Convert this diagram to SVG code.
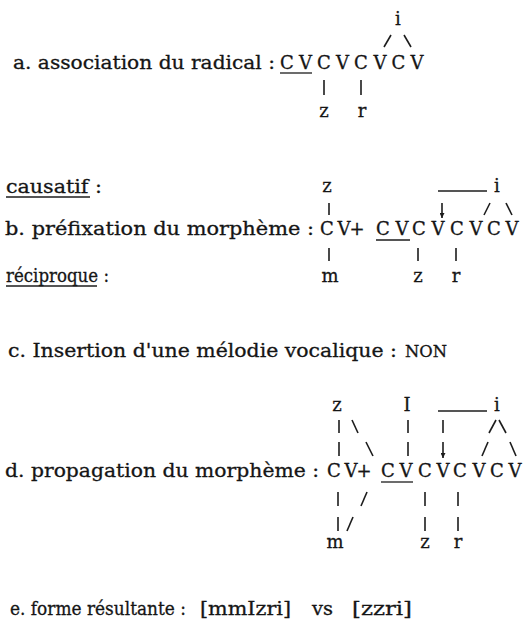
<svg xmlns="http://www.w3.org/2000/svg" width="529" height="632" viewBox="0 0 529 632">
<defs>
<style>
text{font-family:"DejaVu Serif","Liberation Serif",serif;font-size:18px;fill:#151515;stroke:#151515;stroke-width:0.3}
.c{text-anchor:middle}
.lb{font-size:18.5px}
.ln{stroke:#1c1c1c;stroke-width:1.6;fill:none;stroke-linecap:butt}
.ul{stroke:#1c1c1c;stroke-width:1.3;fill:none}
.non{font-size:16px}
</style>
<marker id="ah" viewBox="0 0 8 8" refX="8" refY="4" markerWidth="5" markerHeight="5" orient="auto" markerUnits="userSpaceOnUse">
<path d="M0,0 L8,4 L0,8 Z" fill="#1c1c1c"/>
</marker>
</defs>
<rect width="529" height="632" fill="#ffffff"/>

<g id="a">
<text class="lb" x="13" y="69" textLength="262" lengthAdjust="spacingAndGlyphs">a. association du radical :</text>
<g id="a-skeleton">
<text class="c" x="287" y="69">C</text><text class="c" x="305.5" y="69">V</text>
<text class="c" x="324" y="69">C</text><text class="c" x="342.5" y="69">V</text>
<text class="c" x="361" y="69">C</text><text class="c" x="380" y="69">V</text>
<text class="c" x="398.5" y="69">C</text><text class="c" x="417" y="69">V</text>
</g>
<text class="c" x="398" y="25">i</text>
<text class="c" x="324" y="117">z</text>
<text class="c" x="362" y="117">r</text>
</g>

<g id="b">
<text class="lb" x="6" y="193" textLength="96" lengthAdjust="spacingAndGlyphs">causatif :</text>
<text class="lb" x="5" y="235" textLength="309" lengthAdjust="spacingAndGlyphs">b. préfixation du morphème :</text>
<text class="lb" x="6" y="282" textLength="103" lengthAdjust="spacingAndGlyphs">réciproque :</text>
<text class="c" x="327" y="192">z</text>
<text class="c" x="497" y="192">i</text>
<g id="b-skeleton">
<text class="c" x="327" y="235">C</text><text class="c" x="344" y="235">V</text><text class="c" x="357" y="235">+</text>
<text class="c" x="383" y="235">C</text><text class="c" x="402" y="235">V</text>
<text class="c" x="419" y="235">C</text><text class="c" x="438" y="235">V</text>
<text class="c" x="457" y="235">C</text><text class="c" x="476" y="235">V</text>
<text class="c" x="494" y="235">C</text><text class="c" x="512" y="235">V</text>
</g>
<text class="c" x="330" y="282">m</text>
<text class="c" x="418" y="282">z</text>
<text class="c" x="456" y="282">r</text>
</g>

<g id="c">
<text class="lb" x="8" y="357" textLength="389" lengthAdjust="spacingAndGlyphs">c. Insertion d'une mélodie vocalique :</text>
<text class="non" x="405" y="357" textLength="42" lengthAdjust="spacingAndGlyphs">NON</text>
</g>

<g id="d">
<text class="lb" x="5" y="477" textLength="314" lengthAdjust="spacingAndGlyphs">d. propagation du morphème :</text>
<text class="c" x="337" y="411">z</text>
<text class="c" x="407" y="411">I</text>
<text class="c" x="497" y="411">i</text>
<g id="d-skeleton">
<text class="c" x="334" y="477">C</text><text class="c" x="351" y="477">V</text><text class="c" x="364" y="477">+</text>
<text class="c" x="388" y="477">C</text><text class="c" x="406" y="477">V</text>
<text class="c" x="425" y="477">C</text><text class="c" x="443" y="477">V</text>
<text class="c" x="460" y="477">C</text><text class="c" x="479" y="477">V</text>
<text class="c" x="497" y="477">C</text><text class="c" x="515" y="477">V</text>
</g>
<text class="c" x="335" y="548">m</text>
<text class="c" x="425" y="548">z</text>
<text class="c" x="458" y="548">r</text>
</g>

<g id="e">
<text class="lb" x="10" y="615" textLength="176" lengthAdjust="spacingAndGlyphs">e. forme résultante :</text>
<text class="lb" x="200" y="615" textLength="91" lengthAdjust="spacingAndGlyphs">[mmIzri]</text>
<text class="lb" x="312" y="615" textLength="21" lengthAdjust="spacingAndGlyphs">vs</text>
<text class="lb" x="352" y="615" textLength="60" lengthAdjust="spacingAndGlyphs">[zzri]</text>
</g>

<g id="connectors">
<line class="ul" x1="280" y1="73" x2="312" y2="73"/>
<line class="ul" x1="6" y1="197" x2="90" y2="197"/>
<line class="ul" x1="6" y1="286" x2="97" y2="286"/>
<line class="ul" x1="376" y1="240" x2="410" y2="240"/>
<line class="ul" x1="381" y1="482" x2="413" y2="482"/>
<line class="ln" x1="384" y1="47" x2="391" y2="35"/>
<line class="ln" x1="404" y1="35" x2="411" y2="47"/>
<line class="ln" x1="324" y1="80" x2="324" y2="95"/>
<line class="ln" x1="361" y1="80" x2="361" y2="95"/>
<line class="ln" x1="438" y1="191" x2="487" y2="191"/>
<line class="ln" x1="329" y1="203" x2="329" y2="215"/>
<line class="ln" x1="442" y1="203" x2="442" y2="218" marker-end="url(#ah)"/>
<line class="ln" x1="484" y1="215" x2="490" y2="203"/>
<line class="ln" x1="506" y1="203" x2="512" y2="215"/>
<line class="ln" x1="329" y1="248" x2="329" y2="261"/>
<line class="ln" x1="418" y1="248" x2="418" y2="261"/>
<line class="ln" x1="456" y1="248" x2="456" y2="261"/>
<line class="ln" x1="438" y1="411" x2="487" y2="411"/>
<line class="ln" x1="339" y1="420" x2="339" y2="433"/>
<line class="ln" x1="352" y1="420" x2="358" y2="433"/>
<line class="ln" x1="408" y1="420" x2="408" y2="433"/>
<line class="ln" x1="443" y1="420" x2="443" y2="433"/>
<line class="ln" x1="489" y1="433" x2="496" y2="420"/>
<line class="ln" x1="499" y1="420" x2="506" y2="433"/>
<line class="ln" x1="339" y1="442" x2="339" y2="456"/>
<line class="ln" x1="366" y1="442" x2="373" y2="456"/>
<line class="ln" x1="408" y1="442" x2="408" y2="456"/>
<line class="ln" x1="443" y1="442" x2="443" y2="458" marker-end="url(#ah)"/>
<line class="ln" x1="482" y1="456" x2="488" y2="442"/>
<line class="ln" x1="510" y1="442" x2="516" y2="456"/>
<line class="ln" x1="338" y1="492" x2="338" y2="506"/>
<line class="ln" x1="361" y1="506" x2="367" y2="492"/>
<line class="ln" x1="425" y1="492" x2="425" y2="506"/>
<line class="ln" x1="458" y1="492" x2="458" y2="506"/>
<line class="ln" x1="338" y1="517" x2="338" y2="531"/>
<line class="ln" x1="347" y1="531" x2="353" y2="517"/>
<line class="ln" x1="425" y1="517" x2="425" y2="531"/>
<line class="ln" x1="458" y1="517" x2="458" y2="531"/>
</g>
</svg>
